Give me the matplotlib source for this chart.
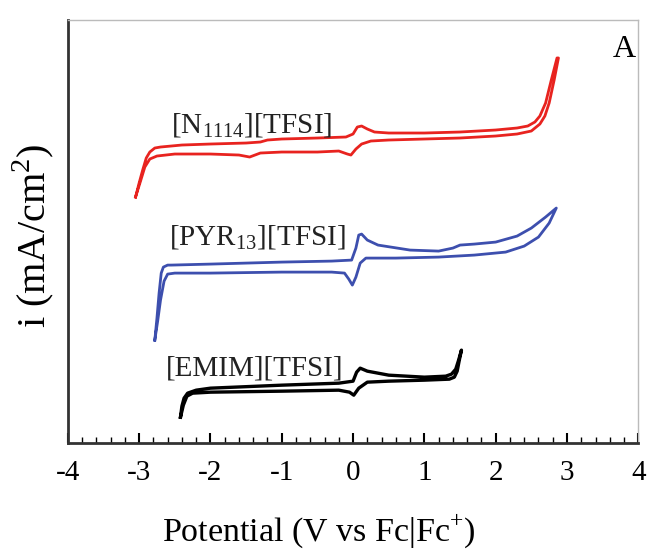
import matplotlib
matplotlib.use("Agg")
import matplotlib.pyplot as plt
from matplotlib.ticker import MultipleLocator

plt.rcParams['font.family'] = ['Liberation Serif', 'DejaVu Serif']
plt.rcParams['mathtext.fontset'] = 'custom'
plt.rcParams['mathtext.rm'] = 'Liberation Serif'
plt.rcParams['axes.unicode_minus'] = False

# [N1114][TFSI] - positive-going scan, then return scan
n1114_fwd_x = [-3.05, -3.0, -2.95, -2.9, -2.85, -2.78, -2.7, -2.4, -2.0, -1.5, -1.3, -1.2, -1.0, -0.5, -0.1, 0.0, 0.06, 0.12, 0.2, 0.3, 0.5, 1.0, 1.5, 2.0, 2.3, 2.45, 2.55, 2.62, 2.7, 2.78, 2.86]
n1114_fwd_y = [2.46, 2.60, 2.73, 2.85, 2.91, 2.95, 2.96, 2.98, 2.99, 3.00, 3.01, 3.03, 3.04, 3.05, 3.06, 3.09, 3.16, 3.17, 3.14, 3.11, 3.10, 3.10, 3.11, 3.13, 3.15, 3.17, 3.21, 3.27, 3.40, 3.63, 3.85]
n1114_rev_x = [2.88, 2.82, 2.75, 2.69, 2.62, 2.5, 2.3, 2.0, 1.5, 1.0, 0.5, 0.25, 0.12, 0.04, -0.03, -0.08, -0.2, -0.5, -1.0, -1.3, -1.45, -1.6, -2.0, -2.5, -2.75, -2.85, -2.92, -2.98, -3.05]
n1114_rev_y = [3.85, 3.63, 3.40, 3.27, 3.19, 3.12, 3.09, 3.07, 3.05, 3.04, 3.03, 3.02, 2.99, 2.94, 2.88, 2.89, 2.92, 2.91, 2.91, 2.90, 2.86, 2.88, 2.89, 2.89, 2.87, 2.84, 2.76, 2.62, 2.46]

# [PYR13][TFSI]
pyr13_fwd_x = [-2.78, -2.75, -2.72, -2.69, -2.66, -2.6, -2.55, -2.0, -1.0, -0.3, -0.02, 0.04, 0.08, 0.12, 0.2, 0.35, 0.8, 1.2, 1.4, 1.5, 1.7, 2.0, 2.3, 2.5, 2.7, 2.85]
pyr13_fwd_y = [1.03, 1.25, 1.50, 1.70, 1.76, 1.78, 1.78, 1.79, 1.81, 1.82, 1.83, 1.95, 2.08, 2.09, 2.03, 1.98, 1.93, 1.92, 1.95, 1.98, 1.99, 2.01, 2.07, 2.15, 2.26, 2.35]
pyr13_rev_x = [2.85, 2.75, 2.6, 2.4, 2.14, 1.7, 1.2, 0.6, 0.18, 0.1, 0.04, -0.01, -0.06, -0.12, -0.3, -1.0, -2.0, -2.5, -2.6, -2.65, -2.7, -2.74, -2.78]
pyr13_rev_y = [2.35, 2.20, 2.06, 1.97, 1.91, 1.88, 1.86, 1.85, 1.85, 1.80, 1.66, 1.58, 1.64, 1.70, 1.71, 1.71, 1.70, 1.70, 1.69, 1.62, 1.43, 1.22, 1.03]

# [EMIM][TFSI]
emim_fwd_x = [-2.42, -2.40, -2.37, -2.32, -2.2, -2.0, -1.0, -0.2, 0.0, 0.05, 0.1, 0.2, 0.5, 1.0, 1.3, 1.38, 1.44, 1.48, 1.52]
emim_fwd_y = [0.26, 0.37, 0.45, 0.50, 0.53, 0.55, 0.58, 0.60, 0.62, 0.71, 0.75, 0.72, 0.68, 0.66, 0.67, 0.69, 0.74, 0.83, 0.93]
emim_rev_x = [1.52, 1.49, 1.46, 1.42, 1.35, 1.0, 0.5, 0.2, 0.08, 0.01, -0.05, -0.2, -1.0, -2.0, -2.25, -2.33, -2.38, -2.42]
emim_rev_y = [0.93, 0.83, 0.72, 0.66, 0.64, 0.63, 0.62, 0.61, 0.55, 0.48, 0.51, 0.53, 0.52, 0.51, 0.50, 0.47, 0.38, 0.26]

fig = plt.figure(figsize=(6.52, 5.54), dpi=100)
ax = fig.add_axes([0.104, 0.200, 0.875, 0.764])

ax.plot(n1114_fwd_x + n1114_rev_x, n1114_fwd_y + n1114_rev_y, color='#e8231f', lw=2.0)
ax.plot(pyr13_fwd_x + pyr13_rev_x, pyr13_fwd_y + pyr13_rev_y, color='#3d4fae', lw=2.0)
ax.plot(emim_fwd_x + emim_rev_x, emim_fwd_y + emim_rev_y, color='black', lw=2.4)

ax.text(-2.55, 3.10, r'[N$_{1114}$][TFSI]', fontsize=21, color='#222222')
ax.text(-2.58, 1.98, r'[PYR$_{13}$][TFSI]', fontsize=21, color='#222222')
ax.text(-2.63, 0.68, '[EMIM][TFSI]', fontsize=21, color='#222222')
ax.text(3.97, 3.93, 'A', fontsize=23, ha='right', va='center')

ax.set_xlim(-4, 4)
ax.set_ylim(0, 4.23)
ax.xaxis.set_major_locator(MultipleLocator(1))
ax.xaxis.set_minor_locator(MultipleLocator(0.2))
ax.tick_params(axis='x', which='major', direction='in', length=7, width=1.5, labelsize=21, pad=12)
ax.tick_params(axis='x', which='minor', direction='in', length=4, width=1)
ax.set_yticks([])

for side in ['left', 'bottom']:
    ax.spines[side].set_linewidth(2)
    ax.spines[side].set_color('#333333')
for side in ['top', 'right']:
    ax.spines[side].set_linewidth(1)
    ax.spines[side].set_color('#bbbbbb')

ax.set_xlabel(r'Potential (V vs Fc|Fc$^{+}$)', fontsize=24.5)
ax.xaxis.set_label_coords(0.44, -0.163)
ax.set_ylabel(r'i (mA/cm$^{2}$)', fontsize=29)
ax.yaxis.set_label_coords(-0.02, 0.49)

fig.savefig('out.png', dpi=100)
